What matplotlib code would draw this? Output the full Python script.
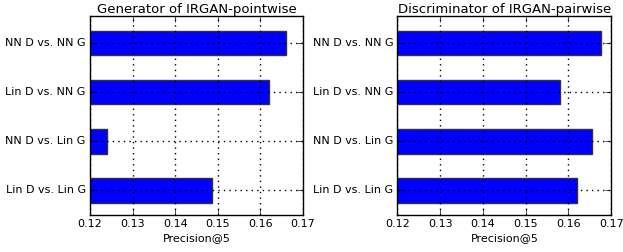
import matplotlib
matplotlib.use("Agg")
import matplotlib.pyplot as plt

# Bar labels, bottom to top
labels = ["Lin D vs. Lin G", "NN D vs. Lin G", "Lin D vs. NN G", "NN D vs. NN G"]

# Precision@5 for each setting
gen_pointwise = [0.1486, 0.1239, 0.1619, 0.1659]
dis_pairwise = [0.1620, 0.1656, 0.1581, 0.1677]

titles = ["Generator of IRGAN-pointwise", "Discriminator of IRGAN-pairwise"]
xticks = [0.12, 0.13, 0.14, 0.15, 0.16, 0.17]

plt.style.use("classic")
plt.rcParams["font.family"] = "DejaVu Sans"

fig = plt.figure(figsize=(6.23, 2.52), dpi=100)
fig.patch.set_facecolor("white")
ax1 = fig.add_axes([0.1445, 0.147, 0.342, 0.79])
ax2 = fig.add_axes([0.638, 0.147, 0.343, 0.79])

for ax, vals, title in zip([ax1, ax2], [gen_pointwise, dis_pairwise], titles):
    ax.barh(range(len(labels)), vals, height=0.5, color="#0000ff",
            edgecolor="#333333", linewidth=1, align="center", zorder=2)
    ax.set_xlim(0.12, 0.17)
    ax.set_ylim(-0.5, 3.55)
    ax.set_xticks(xticks)
    ax.set_xticklabels(["%.2f" % t for t in xticks], fontsize=8)
    ax.set_yticks(range(len(labels)))
    ax.set_yticklabels(labels, fontsize=8)
    ax.grid(True, linestyle=(0, (1, 3)), color="black", linewidth=1, zorder=3)
    ax.set_axisbelow(False)
    ax.set_title(title, fontsize=9.5, pad=2)
    ax.set_xlabel("Precision@5", fontsize=8, labelpad=3)
    ax.tick_params(axis="x", direction="in", length=4, pad=3, top=True)
    ax.tick_params(axis="y", direction="in", length=4, pad=3, right=True)

fig.savefig("out.png", dpi=100, facecolor="white")
